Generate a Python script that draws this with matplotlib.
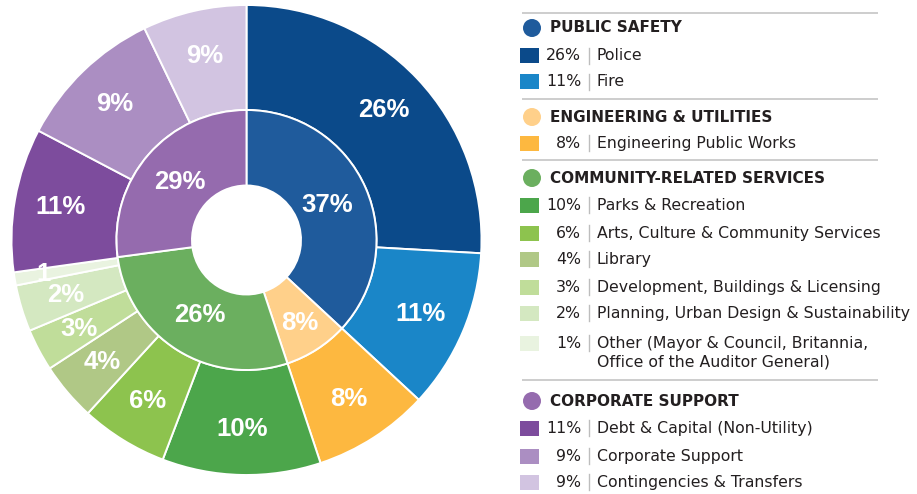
import numpy as np
import matplotlib
matplotlib.use("Agg")
import matplotlib.pyplot as plt
from matplotlib.patches import Rectangle, Circle

# ---------------- data ----------------
groups = ["PUBLIC SAFETY", "ENGINEERING & UTILITIES", "COMMUNITY-RELATED SERVICES", "CORPORATE SUPPORT"]
group_values = [36.9, 8.0, 28.0, 27.1]           # wedge sizes as drawn
group_labels = ["37%", "8%", "26%", "29%"]
group_colors = ["#1F5B9C", "#FFD08A", "#6BAF5F", "#956BAE"]

items = ["Police", "Fire", "Engineering Public Works", "Parks & Recreation",
         "Arts, Culture & Community Services", "Library",
         "Development, Buildings & Licensing", "Planning, Urban Design & Sustainability",
         "Other (Mayor & Council, Britannia,\nOffice of the Auditor General)",
         "Debt & Capital (Non-Utility)", "Corporate Support", "Contingencies & Transfers"]
item_values = [25.9, 11.0, 8.0, 10.9, 6.0, 4.0, 2.9, 3.2, 0.9, 9.9, 10.15, 7.15]  # as drawn
item_labels = ["26%", "11%", "8%", "10%", "6%", "4%", "3%", "2%", "1", "11%", "9%", "9%"]
item_pcts = ["26%", "11%", "8%", "10%", "6%", "4%", "3%", "2%", "1%", "11%", "9%", "9%"]
item_colors = ["#0B4A8A", "#1A86C8", "#FDB840", "#4CA64B", "#8DC34E", "#B0C886",
               "#C0DD9A", "#D4E8C1", "#E9F3E0", "#7D4C9D", "#AB8EC2", "#D2C4E1"]

W, H = 917, 494
fig = plt.figure(figsize=(W / 100, H / 100), dpi=100)

# ---------------- donut ----------------
cx, cy, R = 246.5, 240.0, 235.0
ax = fig.add_axes([(cx - R) / W, (H - cy - R) / H, 2 * R / W, 2 * R / H])

r_inner_out = 130 / R
r_hole = 54.5 / R
wp = dict(edgecolor="white", linewidth=1.4)

ax.pie(item_values, radius=1.0, startangle=90, counterclock=False, colors=item_colors,
       wedgeprops=dict(width=1.0 - r_inner_out, **wp))
ax.pie(group_values, radius=r_inner_out, startangle=90, counterclock=False, colors=group_colors,
       wedgeprops=dict(width=r_inner_out - r_hole, **wp))
ax.set_xlim(-1, 1); ax.set_ylim(-1, 1); ax.set_aspect("equal"); ax.axis("off")

lab_font = dict(family="Liberation Sans", weight="bold", color="white", fontsize=18.5)

def place(values, labels, radius, special=None):
    tot = sum(values)
    cum = 0.0
    for i, (v, l) in enumerate(zip(values, labels)):
        mid = (cum + v / 2) / tot
        cum += v
        ang = np.deg2rad(90 - 360 * mid)
        r = radius if special is None or i not in special else special[i]
        ax.text(r * np.cos(ang), r * np.sin(ang), l, ha="center", va="center", **lab_font)

place(item_values, item_labels, 0.805, special={8: 0.875})
place(group_values, group_labels, 0.375, special={1: 0.42})

# ---------------- legend ----------------
lg = fig.add_axes([0, 0, 1, 1])
lg.set_xlim(0, W); lg.set_ylim(H, 0); lg.axis("off")

txt = "#231F20"
sep_y = [13, 99.5, 160, 380]
for y in sep_y:
    lg.plot([522, 878], [y, y], color="#C9C9C9", lw=1.3, solid_capstyle="butt")

head_y = [28, 117, 178, 401]
item_y = [56, 82, 143, 205, 233, 259, 287, 313, 343, 428, 456, 482]

for g, y in enumerate(head_y):
    lg.add_patch(Circle((532, y), 9, color=group_colors[g], lw=0))
    lg.text(550, y, groups[g], ha="left", va="center", fontsize=11, weight="bold",
            family="DejaVu Sans", color=txt)

for i, y in enumerate(item_y):
    lg.add_patch(Rectangle((520, y - 7.5), 19, 15, color=item_colors[i], lw=0))
    lg.text(581, y, item_pcts[i], ha="right", va="center", fontsize=11.3,
            family="DejaVu Sans", color=txt)
    lg.plot([589, 589], [y - 8, y + 8], color="#BDBDBD", lw=1)
    lines = items[i].split("\n")
    for k, line in enumerate(lines):
        lg.text(597, y + 19 * k, line, ha="left", va="center", fontsize=11.3,
                family="DejaVu Sans", color=txt)

fig.savefig("out.png", dpi=100, facecolor="white")
